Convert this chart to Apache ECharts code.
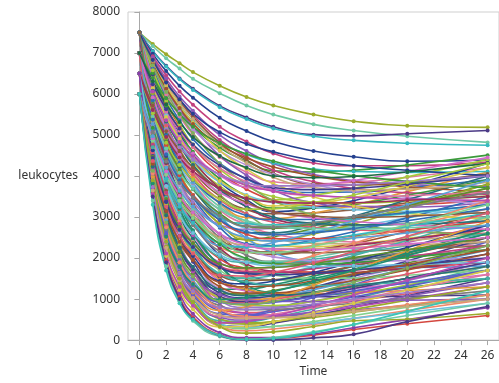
<!DOCTYPE html>
<html>
<head>
<meta charset="utf-8">
<script src="https://cdn.jsdelivr.net/npm/echarts@6/dist/echarts.min.js"></script>
<style>
  html, body { margin: 0; padding: 0; background: #fff; }
  #chart { width: 499px; height: 383px; }
</style>
</head>
<body>
<div id="chart"></div>
<script>
// sample times shared by every patient curve
const times = [0, 1, 2, 3, 4, 6, 8, 10, 13, 16, 20, 26];
const xTicks = [0, 2, 4, 6, 8, 10, 12, 14, 16, 18, 20, 22, 24, 26];

// curves, grouped by their value at t = 0
const from7500 = [
  [7500,7220,6970,6750,6535,6200,5925,5718,5500,5338,5225,5187],
  [7500,7170,6870,6620,6370,6020,5720,5500,5260,5110,4970,4820],
  [7500,7050,6690,6380,6130,5710,5430,5200,5010,4980,5030,5110],
  [7500,7040,6670,6360,6100,5680,5390,5160,4970,4870,4800,4750],
  [7500,6980,6560,6200,5910,5420,5100,4840,4610,4470,4360,4390],
  [7500,6920,6460,6060,5740,5200,4840,4550,4320,4250,4250,4340],
  [7500,6720,6090,5610,5210,4690,4360,4130,4100,4140,4270,4510],
  [7500,6880,6370,5940,5590,5000,4610,4300,4040,3890,3790,3750],
  [7500,6660,5980,5460,5020,4460,4100,3860,3810,3850,3970,4210],
  [7500,6620,5900,5360,4900,4310,3930,3680,3600,3610,3710,3910],
  [7500,6310,5430,4770,4330,3760,3450,3420,3530,3700,3980,4400],
  [7500,6560,5790,5210,4710,4080,3680,3410,3270,3250,3290,3410],
  [7500,4430,2610,1590,1000,470,450,550,760,1000,1320,1800],
  [7500,6230,5290,4590,4120,3510,3180,3080,3100,3180,3350,3600],
  [7500,6180,5200,4460,3970,3340,2990,2960,3100,3290,3620,4100],
  [7500,4540,2780,1790,1230,710,590,590,640,730,840,1000],
  [7500,6450,5600,4950,4400,3700,3250,2950,2820,2790,2850,3010],
  [7500,6100,5060,4280,3760,3080,2720,2620,2660,2770,2980,3300],
  [7500,5190,3620,2600,1990,1240,1100,1120,1290,1510,1820,2300],
  [7500,5660,4420,3610,3130,2530,2460,2520,2720,2960,3290,3800],
  [7500,6020,4920,4090,3540,2830,2440,2300,2280,2340,2480,2700],
  [7500,5390,3970,3040,2480,1800,1640,1630,1750,1910,2140,2500],
  [7500,5560,4250,3400,2880,2260,2140,2170,2310,2510,2780,3200],
  [7500,5910,4730,3840,3250,2490,2070,1920,1920,1990,2150,2400],
  [7500,5770,4490,3530,2890,2060,1610,1470,1480,1580,1780,2100],
  [7500,5430,4020,3110,2560,1890,1750,1770,1910,2110,2380,2800],
  [7500,5360,3910,2960,2400,1700,1500,1460,1510,1610,1760,2000],
  [7500,5930,4770,3900,3320,2570,2160,2090,2190,2350,2650,3100],
  [7500,4770,3150,2240,1720,1240,1240,1350,1560,1800,2120,2600],
  [7500,5260,3740,2750,2150,1430,1200,1140,1170,1260,1390,1600],
  [7500,6350,5410,4700,4090,3320,2830,2500,2360,2340,2420,2610],
  [7500,4640,2940,1990,1450,950,930,1030,1230,1450,1750,2200],
  [7500,4560,2810,1830,1270,760,670,710,820,950,1130,1400],
  [7500,6410,5520,4850,4280,3550,3080,2770,2800,2930,3220,3710],
  [7500,5090,3450,2390,1750,970,800,810,950,1160,1450,1900],
  [7500,4460,2640,1630,1050,520,420,450,550,680,850,1100],
  [7500,6150,5150,4400,3900,3250,2900,2760,2720,2750,2850,3000],
  [7500,4390,2540,1510,910,370,330,410,590,800,1080,1500],
  [7500,6770,6170,5720,5330,4840,4530,4320,4170,4110,4090,4110],
  [7500,6490,5680,5050,4520,3850,3420,3130,3220,3400,3740,4310],
  [7500,6840,6310,5860,5490,4880,4470,4140,3860,3700,3590,3550],
  [7500,6510,5710,5100,4590,3930,3510,3220,3220,3310,3530,3910],
  [7500,6750,6140,5620,5200,4490,4020,3650,3350,3260,3240,3360],
  [7500,6120,5100,4340,3830,3170,2810,2590,2450,2390,2340,2300],
  [7500,5990,4870,4030,3470,2740,2350,2300,2440,2640,2980,3500],
  [7500,6580,5830,5260,4770,4160,3760,3500,3370,3340,3390,3510],
  [7500,5460,4080,3180,2640,1980,1750,1670,1660,1710,1780,1900],
  [7500,5320,3850,2890,2320,1610,1510,1580,1790,2060,2430,3000],
  [7500,6830,6280,5820,5440,4810,4390,4060,3810,3780,3840,4050],
  [7500,4690,3010,2070,1540,1050,980,1030,1150,1300,1500,1800],
  [7500,4480,2680,1670,1090,570,600,750,1040,1350,1770,2400],
  [7500,5600,4310,3470,2960,2350,2180,2140,2200,2310,2460,2700],
  [7500,6340,5480,4830,4400,3850,3540,3360,3240,3180,3140,3100],
  [7500,6700,6060,5560,5140,4610,4270,4040,3790,3630,3480,3310],
  [7500,4730,3080,2150,1630,1140,1120,1210,1390,1600,1880,2300],
  [7500,6780,6200,5700,5300,4620,4170,3810,3490,3270,3090,2950],
  [7500,6070,5010,4210,3680,3000,2620,2610,2790,3020,3420,4000],
  [7500,4370,2510,1470,870,330,230,270,380,530,720,1000],
  [7500,5530,4190,3320,2800,2160,1950,1890,1900,1960,2050,2200],
  [7500,5150,3570,2530,1910,1150,1030,1080,1290,1560,1930,2500],
  [7500,5050,3400,2320,1670,880,650,610,680,810,1000,1300],
  [7500,5830,4590,3660,3040,2230,1800,1590,1510,1510,1580,1700],
  [7500,6740,6130,5660,5270,4760,4440,4220,4000,3860,3740,3610],
  [7500,5690,4350,3350,2680,1810,1340,1150,1100,1150,1280,1500],
  [7500,6390,5570,4960,4550,4020,3730,3680,3760,3890,4110,4450],
  [7500,6810,6250,5780,5390,4750,4320,3970,3720,3660,3680,3850],
  [7500,6260,5260,4490,3840,3020,2490,2130,1900,1800,1770,1810],
  [7500,6200,5240,4520,4040,3420,3080,2880,2750,2690,2640,2600],
  [7500,6700,6050,5500,5050,4300,3800,3400,3050,2830,2670,2560],
  [7500,5770,4590,3830,3370,2810,2700,2720,2840,3010,3240,3600],
  [7500,6020,4920,4090,3540,2830,2440,2420,2590,2830,3220,3800],
  [7500,5880,4680,3780,3180,2400,1980,1910,2020,2200,2520,3000],
  [7500,5290,3800,2820,2240,1520,1240,1120,1060,1060,1070,1100],
  [7500,5830,4710,3970,3530,2990,2840,2810,2870,2960,3090,3300],
  [7500,6830,6280,5870,5520,5070,4780,4590,4380,4250,4140,4010],
  [7500,5630,4370,3540,3050,2440,2220,2140,2130,2160,2210,2300]
];
const from7000 = [
  [7000,6390,5900,5520,5200,4800,4540,4360,4150,4010,3870,3710],
  [7000,4190,2510,1570,1040,550,490,550,690,850,1070,1400],
  [7000,6220,5590,5110,4710,4190,3860,3630,3520,3490,3520,3610],
  [7000,5840,4980,4330,3900,3350,3040,2940,2940,2990,3110,3300],
  [7000,4790,3300,2320,1740,1020,850,840,950,1110,1340,1700],
  [7000,5700,4740,4020,3540,2920,2580,2470,2470,2540,2680,2900],
  [7000,5160,3920,3110,2630,2030,1890,1880,1970,2110,2300,2600],
  [7000,4990,3640,2750,2220,1570,1450,1470,1610,1810,2080,2500],
  [7000,4960,3580,2680,2140,1480,1240,1150,1130,1160,1210,1300],
  [7000,4230,2580,1650,1130,640,610,690,860,1050,1310,1700],
  [7000,5490,4370,3530,2970,2240,1850,1680,1630,1650,1750,1900],
  [7000,4120,2410,1450,900,400,310,330,410,530,680,900],
  [7000,5600,4560,3780,3260,2580,2220,2030,1940,1920,1940,2000],
  [7000,5760,4840,4150,3690,3090,2770,2730,2840,3000,3280,3700],
  [7000,6140,5440,4910,4460,3880,3520,3270,3330,3470,3750,4210],
  [7000,6080,5330,4760,4270,3660,3260,3000,2850,2810,2820,2910],
  [7000,5060,3750,2900,2380,1760,1710,1810,2060,2360,2770,3400],
  [7000,4310,2710,1820,1300,840,740,750,810,900,1020,1200],
  [7000,6240,5630,5160,4770,4260,3940,3720,3670,3700,3800,4010],
  [7000,6060,5360,4830,4480,4030,3780,3630,3530,3480,3440,3400],
  [7000,4100,2380,1410,860,360,280,330,450,600,800,1100],
  [7000,4890,3470,2540,1980,1300,1150,1150,1280,1460,1710,2100],
  [7000,5350,4130,3220,2610,1820,1390,1340,1500,1730,2120,2700],
  [7000,5920,5120,4520,4120,3600,3320,3130,2980,2890,2810,2700],
  [7000,5330,4210,3470,3030,2490,2300,2230,2230,2260,2310,2400],
  [7000,5270,4090,3330,2870,2310,2280,2380,2620,2910,3300,3900],
  [7000,4350,2780,1900,1390,930,910,990,1160,1350,1610,2000],
  [7000,6310,5750,5320,4950,4490,4200,4000,3960,3990,4100,4310]
];
const from6500 = [
  [6500,5720,5140,4700,4410,4040,3830,3760,3760,3790,3870,4000],
  [6500,3850,2280,1400,890,430,390,450,590,750,970,1300],
  [6500,5450,4670,4080,3690,3190,2910,2780,2720,2710,2740,2800],
  [6500,4490,3140,2250,1720,1070,940,950,1080,1260,1510,1900],
  [6500,4970,3940,3260,2860,2360,2270,2290,2400,2560,2770,3100],
  [6500,4630,3370,2540,2050,1440,1370,1440,1650,1910,2260,2800],
  [6500,4770,3590,2830,2370,1810,1670,1660,1740,1860,2030,2300],
  [6500,5180,4200,3460,2970,2340,1990,1860,1850,1890,2010,2200],
  [6500,4150,2750,1960,1520,1110,980,940,940,950,970,1000],
  [6500,3920,2380,1520,1030,580,550,630,790,980,1230,1600],
  [6500,5370,4530,3900,3480,2930,2640,2570,2620,2720,2910,3200],
  [6500,5530,4810,4270,3910,3440,3190,3200,3350,3540,3850,4300],
  [6500,3600,1950,1050,560,130,30,40,120,260,400,600],
  [6500,4700,3480,2680,2210,1620,1420,1340,1330,1360,1410,1500],
  [6500,5720,5090,4610,4210,3690,3360,3130,3020,2990,3020,3110],
  [6500,3980,2480,1640,1160,720,810,1000,1340,1700,2180,2900],
  [6500,4060,2610,1800,1340,920,870,920,1050,1200,1400,1700],
  [6500,5610,4950,4450,4120,3700,3460,3370,3340,3350,3410,3500],
  [6500,4870,3760,3040,2610,2080,1890,1810,1790,1810,1840,1900],
  [6500,3700,2050,1150,640,180,60,60,150,300,500,790]
];
const from6000 = [
  [6000,4470,3440,2760,2360,1860,1760,1770,1870,2010,2200,2500],
  [6000,3520,2050,1220,750,320,330,440,660,900,1220,1700],
  [6000,4230,3040,2260,1790,1220,1080,1080,1170,1310,1500,1800],
  [6000,4060,2750,1900,1380,760,580,550,600,710,860,1100],
  [6000,5060,4360,3830,3480,3030,2780,2760,2860,3010,3240,3600],
  [6000,4440,3380,2690,2270,1770,1620,1590,1630,1710,1820,2000],
  [6000,3560,2110,1300,840,420,450,580,830,1100,1460,2000],
  [6000,4870,4030,3400,2980,2430,2140,2130,2290,2490,2810,3300],
  [6000,4300,3150,2400,1950,1400,1300,1320,1440,1610,1840,2200],
  [6000,3820,2520,1790,1370,990,1040,1180,1430,1700,2060,2600],
  [6000,4920,4120,3520,3120,2600,2320,2220,2200,2240,2340,2500],
  [6000,3650,2250,1460,1020,610,530,540,610,700,820,1000],
  [6000,4970,4210,3640,3260,2770,2500,2420,2430,2490,2610,2800],
  [6000,4370,3260,2540,2110,1580,1560,1650,1880,2160,2530,3100],
  [6000,4130,2870,2040,1550,940,870,940,1150,1410,1760,2300],
  [6000,3730,2380,1630,1190,800,750,780,880,1000,1160,1400],
  [6000,3900,2400,1500,930,330,170,200,330,470,510,650],
  [6000,3400,1800,950,470,90,20,60,200,380,600,900],
  [6000,3500,1900,1000,520,110,10,5,55,140,450,820],
  [6000,3300,1700,900,500,120,20,40,180,380,700,1200]
];

const palette = [
  '#9bab2b', '#6fc9a6', '#4b3a86', '#35b9c0', '#24418f',
  '#c2417f', '#3b9a3b', '#8a5ab8', '#e0779f', '#2f6db5',
  '#a6c93c', '#d4473f', '#46b0a6', '#8c5a3c', '#e39a3b',
  '#5a5fc9', '#9c2f5a', '#6fc1e0', '#b58ed8', '#5e8f2e',
  '#d9c94a', '#26707a', '#f08a6a', '#7d7d7d', '#3d3f8f',
  '#b64bb3', '#84d18c', '#a0522d', '#1f8f6f', '#d36bc9',
  '#c9a97a', '#5aa0d8', '#e05a70', '#7fae5a', '#9d7ac8'
];
// colour of the curve drawn last in each group (its marker sits on top at t = 0)
const topColors = ['#8b6b4a', '#1e6b45', '#8a3fa8', '#3cc4b4'];

const groups = [from7500, from7000, from6500, from6000];
const series = [];
let k = 0;
groups.forEach((rows, gi) => {
  rows.forEach((row, ri) => {
    const color = ri === rows.length - 1 ? topColors[gi] : palette[k % palette.length];
    k++;
    series.push({
      type: 'line',
      smooth: true,
      symbol: 'circle',
      symbolSize: 4,
      data: row.map((v, i) => [times[i], v]),
      lineStyle: { width: 1.6, color },
      itemStyle: { color },
      emphasis: { disabled: true },
      z: 2
    });
  });
});

const chart = echarts.init(document.getElementById('chart'), null, { renderer: 'canvas' });
const axisColor = '#a8a8a8';
const textStyle = { color: '#333', fontSize: 12, fontFamily: 'Noto Sans' };

chart.setOption({
  animation: false,
  backgroundColor: '#fff',
  grid: { left: 128, right: -9, top: 12, bottom: 35, show: true, borderColor: '#cfcfcf', borderWidth: 1 },
  xAxis: {
    type: 'value', min: -0.85, max: 26.85,
    name: 'Time', nameLocation: 'middle', nameGap: 25,
    nameTextStyle: textStyle,
    axisLine: { show: true, onZero: false, lineStyle: { color: axisColor } },
    axisTick: { show: true, length: 5, customValues: xTicks, lineStyle: { color: axisColor } },
    axisLabel: Object.assign({ customValues: xTicks, margin: 9 }, textStyle),
    splitLine: { show: false }
  },
  yAxis: {
    type: 'value', min: 0, max: 8000, interval: 1000,
    name: 'leukocytes', nameLocation: 'middle', nameRotate: 0, nameGap: 50,
    nameTextStyle: textStyle,
    axisLine: { show: true, lineStyle: { color: axisColor } },
    axisTick: { show: true, length: 5, lineStyle: { color: axisColor } },
    axisLabel: Object.assign({ margin: 8, formatter: v => String(v) }, textStyle),
    splitLine: { show: false }
  },
  series
});
</script>
</body>
</html>
